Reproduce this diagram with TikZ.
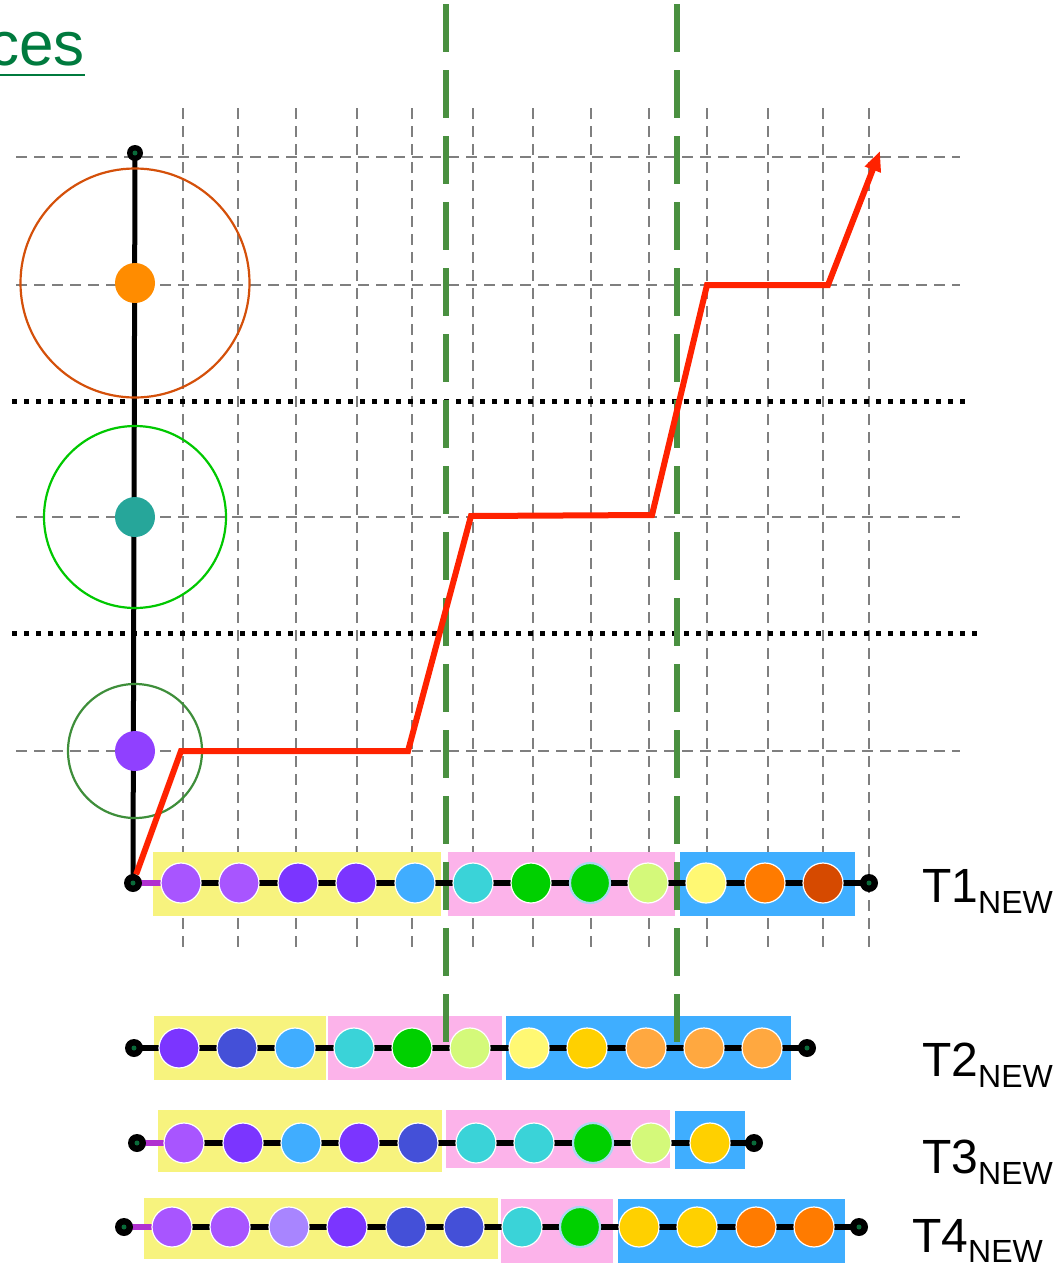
\documentclass[tikz,border=0pt]{standalone}
\usepackage{fontspec}
\setmainfont{Liberation Sans}
\usetikzlibrary{arrows.meta}
\pgfdeclarelayer{gridl}
\pgfdeclarelayer{boxl}
\pgfdeclarelayer{gdl}
\pgfdeclarelayer{rowl}
\pgfsetlayers{gridl,boxl,gdl,rowl,main}
\definecolor{gridgray}{HTML}{7F7F7F}
\definecolor{gdash}{HTML}{4A9040}
\definecolor{redc}{HTML}{FF2200}
\definecolor{ringor}{HTML}{D4500A}
\definecolor{ringgr}{HTML}{00C800}
\definecolor{ringdg}{HTML}{3E8E3A}
\definecolor{dotor}{HTML}{FF8C00}
\definecolor{dottl}{HTML}{26A69A}
\definecolor{dotpu}{HTML}{9040FF}
\definecolor{ttlgreen}{HTML}{007A3E}
\definecolor{ctrgreen}{HTML}{0A6B3A}
\definecolor{purpseg}{HTML}{B030D0}
\definecolor{hlblue}{HTML}{A8D8F0}
\definecolor{boxy}{HTML}{F7F37E}
\definecolor{boxp}{HTML}{FCB3EA}
\definecolor{boxb}{HTML}{3FAEFF}
\definecolor{lpur}{HTML}{A855FF}
\definecolor{vio}{HTML}{7B35FF}
\definecolor{sky}{HTML}{40ADFF}
\definecolor{turq}{HTML}{3AD3D8}
\definecolor{grn}{HTML}{00D000}
\definecolor{lime}{HTML}{D4F97A}
\definecolor{ylw}{HTML}{FFF873}
\definecolor{gold}{HTML}{FFD000}
\definecolor{lor}{HTML}{FFA840}
\definecolor{org}{HTML}{FF7B00}
\definecolor{dor}{HTML}{D64A00}
\definecolor{ind}{HTML}{4450D8}
\definecolor{lav}{HTML}{A885FF}
\begin{document}
\begin{tikzpicture}[x=1pt,y=-1pt,
  gridline/.style={draw=gridgray, line width=2pt, dash pattern=on 11pt off 7pt},
  dotline/.style={draw=black, line width=5pt, dash pattern=on 5pt off 7pt},
  gdashline/.style={draw=gdash, line width=6pt, dash pattern=on 48pt off 18pt},
  axisline/.style={draw=black, line width=5pt},
  rowline/.style={draw=black, line width=6pt},
  purpline/.style={draw=purpseg, line width=6pt},
  redline/.style={draw=redc, line width=6pt},
  ring/.style={line width=2.2pt},
  bead/.style={circle, minimum size=40pt, inner sep=0pt, draw=white, line width=1.2pt, fill=#1},
  plain/.style={},
  hl/.style={draw=hlblue, line width=2.2pt},
  axdot/.style={circle, minimum size=40pt, inner sep=0pt, fill=#1},
  enddot/.style={circle, fill=black, minimum size=#1, inner sep=0pt,
    path picture={\fill[ctrgreen] (path picture bounding box.center) circle (2.5pt);}},
  enddot/.default=18pt,
  lab/.style={anchor=base west, font=\fontsize{48}{48}\selectfont, inner sep=0pt},
]
\useasboundingbox (0,0) rectangle (1055,1267);
\clip (0,0) rectangle (1055,1267);

% title fragment
\node[anchor=base east, text=ttlgreen, font=\fontsize{62}{62}\selectfont, inner sep=0pt] (ttl) at (85,65) {ces};
\draw[ttlgreen, line width=2.5pt] (-10,75) -- (85,75);

% grid
\begin{pgfonlayer}{gridl}
\foreach \x in {183,238,296,357,412,473,533,591,649,707,768,823,869}
  \draw[gridline] (\x,108) -- (\x,953);
\foreach \y in {157,285,517,751}
  \draw[gridline] (16,\y) -- (960,\y);
\draw[dotline] (12,401) -- (966,401);
\draw[dotline] (12,633) -- (978,633);
\end{pgfonlayer}

% boxes
\begin{pgfonlayer}{boxl}
\fill[boxy] (153,852) rectangle (441,916);
\fill[boxp] (448,852) rectangle (675,916);
\fill[boxb] (680,852) rectangle (855,916);
\fill[boxy] (154,1016) rectangle (326,1080);
\fill[boxp] (328,1016) rectangle (502,1080);
\fill[boxb] (506,1016) rectangle (791,1080);
\fill[boxy] (158,1110) rectangle (442,1172);
\fill[boxp] (446,1110) rectangle (670,1168);
\fill[boxb] (675,1111) rectangle (745,1169);
\fill[boxy] (144,1198) rectangle (498,1259);
\fill[boxp] (501,1199) rectangle (613,1263);
\fill[boxb] (618,1199) rectangle (845,1263);
\end{pgfonlayer}

% green dashed separators
\begin{pgfonlayer}{gdl}
\draw[gdashline] (446,4) -- (446,1042);
\draw[gdashline] (677,4) -- (677,1042);
\end{pgfonlayer}

% rings
\draw[ring, ringor] (135,283) circle (114.5);
\draw[ring, ringgr] (135,517) circle (91);
\draw[ring, ringdg] (135,751) circle (67);

% axis
\node[enddot=16pt] (atop) at (135,153) {};
\node[axdot=dotor] (od) at (135,283) {};
\node[axdot=dottl] (td) at (135,517) {};
\node[axdot=dotpu] (pd) at (135,751) {};

% rows: start / end dots
\node[enddot] (t1s) at (133,883) {};
\node[enddot] (t1e) at (869,883) {};
\node[enddot] (t2s) at (134,1048) {};
\node[enddot] (t2e) at (807,1048) {};
\node[enddot] (t3s) at (137,1143) {};
\node[enddot] (t3e) at (754,1143) {};
\node[enddot] (t4s) at (124,1227) {};
\node[enddot] (t4e) at (859,1227) {};

% beads
\foreach \x/\c/\o [count=\i] in {181/lpur/plain,239/lpur/plain,298/vio/plain,356/vio/plain,415/sky/plain,473/turq/plain,531/grn/plain,590/grn/hl,648/lime/plain,706/ylw/plain,765/org/plain,823/dor/plain}
  \node[bead=\c, \o] (t1b\i) at (\x,883) {};
\foreach \x/\c/\o [count=\i] in {179/vio/plain,237/ind/plain,295/sky/plain,354/turq/plain,412/grn/plain,470/lime/plain,529/ylw/plain,587/gold/plain,646/lor/plain,704/lor/plain,762/lor/plain}
  \node[bead=\c, \o] (t2b\i) at (\x,1048) {};
\foreach \x/\c/\o [count=\i] in {184/lpur/plain,243/vio/plain,301/sky/plain,359/vio/plain,418/ind/plain,476/turq/plain,534/turq/plain,593/grn/hl,651/lime/plain,710/gold/plain}
  \node[bead=\c, \o] (t3b\i) at (\x,1143) {};
\foreach \x/\c/\o [count=\i] in {172/lpur/plain,230/lpur/plain,289/lav/plain,347/vio/plain,406/ind/plain,464/ind/plain,522/turq/plain,580/grn/hl,639/gold/plain,697/gold/plain,756/org/plain,814/org/plain}
  \node[bead=\c, \o] (t4b\i) at (\x,1227) {};

\begin{pgfonlayer}{rowl}
\draw[axisline] (atop.center) -- (t1s.center);
\draw[purpline] (t1s.center) -- (t1b1.center);
\draw[rowline] (t1b1.center) -- (t1e.center);
\draw[rowline] (t2s.center) -- (t2e.center);
\draw[purpline] (t3s.center) -- (t3b1.center);
\draw[rowline] (t3b1.center) -- (t3e.center);
\draw[purpline] (t4s.center) -- (t4b1.center);
\draw[rowline] (t4b1.center) -- (t4e.center);
\end{pgfonlayer}

% red step path
\coordinate (r1) at (181,751);
\coordinate (r2) at (408,751);
\coordinate (r3) at (471,516);
\coordinate (r4) at (652,515);
\coordinate (r5) at (707,285);
\coordinate (r6) at (828,285);
\coordinate (r7) at (880,151);
\draw[redline, -{Triangle[length=20pt,width=16pt]}] (t1s) -- (r1) -- (r2) -- (r3) -- (r4) -- (r5) -- (r6) -- (r7);

% labels
\node[lab] (l1) at (922,902) {T1\raisebox{-11pt}{\fontsize{32}{32}\selectfont NEW}};
\node[lab] (l2) at (922,1076) {T2\raisebox{-11pt}{\fontsize{32}{32}\selectfont NEW}};
\node[lab] (l3) at (922,1173) {T3\raisebox{-11pt}{\fontsize{32}{32}\selectfont NEW}};
\node[lab] (l4) at (912,1252) {T4\raisebox{-10pt}{\fontsize{32}{32}\selectfont NEW}};
\end{tikzpicture}
\end{document}
